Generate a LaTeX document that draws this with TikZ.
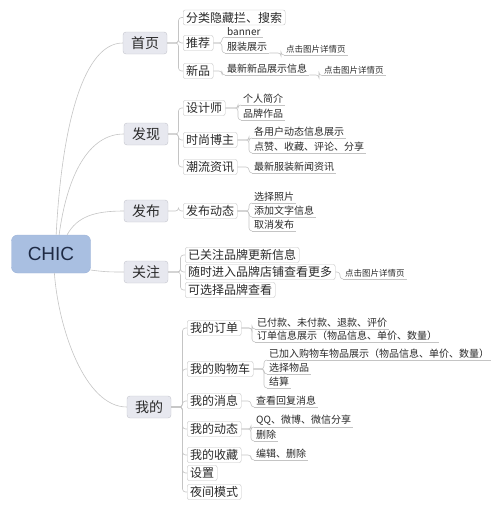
\documentclass[tikz,border=0pt]{standalone}
\usepackage{fontspec}
\setmainfont{Noto Sans CJK SC}
\newfontfamily\latinfont{Liberation Sans}
\definecolor{rootfill}{HTML}{A9BFE1}
\definecolor{rootedge}{HTML}{9DB3D8}
\definecolor{rootink}{HTML}{1E2A44}
\definecolor{mainfill}{HTML}{E7E8EF}
\definecolor{mainedge}{HTML}{C3C4CC}
\definecolor{subedge}{HTML}{C2C2C2}
\definecolor{linkgray}{HTML}{C4C4C4}
\definecolor{inkgray}{HTML}{2A2A2A}

\begin{document}
\begin{tikzpicture}[x=1pt, y=1pt,
    rootbox/.style={rectangle,rounded corners=6pt,fill=rootfill,draw=rootedge,minimum width=79pt,minimum height=38pt,text=rootink,font=\latinfont\fontsize{19}{19}\selectfont},
    topic/.style={rectangle,rounded corners=3pt,fill=mainfill,draw=mainedge,minimum width=44pt,minimum height=22pt,inner sep=0pt,text=inkgray,font=\fontsize{14}{14}\selectfont},
    subbox/.style={rectangle,rounded corners=2pt,fill=white,draw=subedge,minimum height=15pt,inner xsep=3pt,inner ysep=0pt,anchor=west,text=inkgray,font=\fontsize{12}{12}\selectfont},
    leafline/.style={inner xsep=2pt,inner ysep=1.5pt,anchor=south west,text=inkgray,font=\fontsize{10}{10}\selectfont},
    notetext/.style={leafline,font=\fontsize{8.5}{8.5}\selectfont},
    conn/.style={draw=linkgray,line width=0.6pt,rounded corners=3pt}
  ]
  \useasboundingbox (0,0) rectangle (499,-509);

  % centre and main topics
  \node[rootbox] (chic) at (51,-254) {CHIC};
  \node[topic] (sy) at (145,-43)  {首页};
  \node[topic] (fx) at (146,-134) {发现};
  \node[topic] (fb) at (146,-211) {发布};
  \node[topic] (gz) at (146,-272) {关注};
  \node[topic] (wd) at (149,-407) {我的};

  % 首页
  \node[subbox] (flss) at (183,-17.5) {分类隐藏拦、搜索};
  \node[subbox] (tj) at (183,-43) {推荐};
  \node[subbox] (xp) at (183,-71) {新品};
  \node[leafline] (banner) at (225,-37) {banner};
  \node[leafline] (fzzs) at (225,-53) {服装展示};
  \node[notetext] (dja) at (284,-55) {点击图片详情页};
  \node[leafline] (zxxp) at (225,-75) {最新新品展示信息};
  \node[notetext] (djb) at (322,-75.5) {点击图片详情页};

  % 发现
  \node[subbox] (sjs) at (183,-108) {设计师};
  \node[subbox] (ssbz) at (183,-140) {时尚博主};
  \node[subbox] (clzx) at (183,-167) {潮流资讯};
  \node[leafline] (grjj) at (241,-105) {个人简介};
  \node[leafline] (ppzp) at (241,-120) {品牌作品};
  \node[leafline] (gyh) at (252,-138) {各用户动态信息展示};
  \node[leafline] (dzsc) at (252,-153) {点赞、收藏、评论、分享};
  \node[leafline] (zxfz) at (252,-173) {最新服装新闻资讯};

  % 发布
  \node[subbox] (fbdt) at (183,-211) {发布动态};
  \node[leafline] (xzzp) at (252,-203) {选择照片};
  \node[leafline] (tjwz) at (252,-217) {添加文字信息};
  \node[leafline] (qxfb) at (252,-231) {取消发布};

  % 关注
  \node[subbox] (ygz) at (185,-255) {已关注品牌更新信息};
  \node[subbox] (ssjr) at (185,-272) {随时进入品牌店铺查看更多};
  \node[subbox] (kxz) at (185,-290) {可选择品牌查看};
  \node[notetext] (djc) at (343,-279) {点击图片详情页};

  % 我的
  \node[subbox] (wddd) at (187,-328) {我的订单};
  \node[subbox] (wdgwc) at (187,-369) {我的购物车};
  \node[subbox] (wdxx) at (187,-401) {我的消息};
  \node[subbox] (wddt) at (187,-429) {我的动态};
  \node[subbox] (wdsc) at (187,-455) {我的收藏};
  \node[subbox] (shez) at (187,-473) {设置};
  \node[subbox] (yjms) at (187,-492) {夜间模式};
  \node[leafline] (yfk) at (255,-329) {已付款、未付款、退款、评价};
  \node[leafline] (ddxx) at (255,-342) {订单信息展示（物品信息、单价、数量）};
  \node[leafline] (yjr) at (267,-360) {已加入购物车物品展示（物品信息、单价、数量）};
  \node[leafline] (xzwp) at (267,-374) {选择物品};
  \node[leafline] (jies) at (267,-388) {结算};
  \node[leafline] (ckhf) at (254,-407) {查看回复消息};
  \node[leafline] (qqwb) at (254,-427) {QQ、微博、微信分享};
  \node[leafline] (shan) at (254,-441) {删除};
  \node[leafline] (bjsc) at (254,-460) {编辑、删除};

  % curves from the centre
  \draw[conn] (chic.75) .. controls +(6,115) and +(-38,0) .. (sy.west);
  \draw[conn] (chic.67) .. controls +(8,60) and +(-35,0) .. (fx.west);
  \draw[conn] (chic.50) .. controls +(10,18) and +(-30,0) .. (fb.west);
  \draw[conn] (chic.-22) .. controls +(15,-2) and +(-12,0) .. (gz.west);
  \draw[conn] (chic.-80) .. controls +(4,-55) and +(-42,0) .. (wd.west);

  % main topic -> boxed subtopics
  \foreach \p/\c in {sy/flss, sy/tj, sy/xp, fx/sjs, fx/ssbz, fx/clzx, fb/fbdt,
                     gz/ygz, gz/ssjr, gz/kxz, wd/wddd, wd/wdgwc, wd/wdxx,
                     wd/wddt, wd/wdsc, wd/shez, wd/yjms}
    \draw[conn] (\p.east) -- ([xshift=-4.5pt]\p.east -| \c.west) |- (\c.west);

  % boxed subtopics -> underlined leaves
  \foreach \p/\c in {tj/banner, tj/fzzs, xp/zxxp, sjs/grjj, sjs/ppzp, ssbz/gyh,
                     ssbz/dzsc, clzx/zxfz, fbdt/xzzp, fbdt/tjwz, fbdt/qxfb,
                     ssjr/djc, wddd/yfk, wddd/ddxx, wdgwc/yjr, wdgwc/xzwp,
                     wdgwc/jies, wdxx/ckhf, wddt/qqwb, wddt/shan, wdsc/bjsc}
    \draw[conn] (\p.east) -- ([xshift=-3pt]\p.east -| \c.south west) |- (\c.south west);

  % leaves -> notes
  \foreach \p/\c in {fzzs/dja, zxxp/djb}
    \draw[conn] (\p.south east) -- ([xshift=-3pt]\p.south east -| \c.south west) |- (\c.south west);

  % underlines
  \foreach \n in {banner, fzzs, dja, zxxp, djb, grjj, ppzp, gyh, dzsc, zxfz,
                  xzzp, tjwz, qxfb, djc, yfk, ddxx, yjr, xzwp, jies, ckhf,
                  qqwb, shan, bjsc}
    \draw[conn] (\n.south west) -- (\n.south east);
\end{tikzpicture}
\end{document}
